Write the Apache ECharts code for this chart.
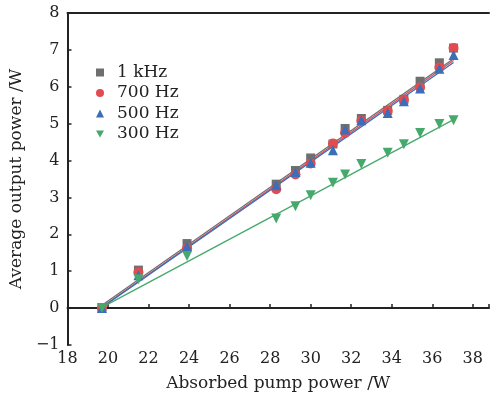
<!DOCTYPE html>
<html><head><meta charset="utf-8">
<script src="https://cdn.jsdelivr.net/npm/echarts@6/dist/echarts.min.js"></script>
<style>html,body{margin:0;padding:0;background:#fff}#c{width:492px;height:398px}</style>
</head><body><div id="c"></div>
<script>
const pumpPower = [19.7, 21.5, 23.9, 28.3, 29.25, 30.0, 31.1, 31.7, 32.5, 33.8, 34.6, 35.4, 36.35, 37.05];
const p1kHz  = [0.0, 1.03, 1.75, 3.36, 3.73, 4.07, 4.45, 4.87, 5.14, 5.36, 5.66, 6.15, 6.65, 7.05];
const p700Hz = [0.0, 0.97, 1.62, 3.22, 3.62, 3.92, 4.46, 4.75, 5.08, 5.34, 5.64, 5.98, 6.52, 7.05];
const p500Hz = [0.0, 0.89, 1.68, 3.33, 3.69, 3.94, 4.28, 4.84, 5.09, 5.29, 5.61, 5.95, 6.49, 6.86];
const p300Hz = [0.0, 0.78, 1.41, 2.43, 2.76, 3.06, 3.40, 3.62, 3.91, 4.21, 4.44, 4.75, 4.99, 5.09];
// fitted-line endpoints
const fitX = [19.7, 37.05];
const fit1kHz  = [0.08, 6.76];
const fit700Hz = [0.03, 6.71];
const fit500Hz = [0.02, 6.66];
const fit300Hz = [0.02, 5.11];
const seriesNames = ['1 kHz', '700 Hz', '500 Hz', '300 Hz'];
const xTicks = [18, 20, 22, 24, 26, 28, 30, 32, 34, 36, 38];
const yTicks = [-1, 0, 1, 2, 3, 4, 5, 6, 7, 8];

const colors = ['#6f6f6f', '#e24b50', '#3b6db8', '#46a96c'];
const downTri = 'path://M0,0 L10,0 L5,8.66 Z';
const symbols = ['rect', 'circle', 'triangle', downTri];
const pts = [p1kHz, p700Hz, p500Hz, p300Hz];
const fits = [fit1kHz, fit700Hz, fit500Hz, fit300Hz];
const font = 'DejaVu Serif';

const series = [];
for (let i = 0; i < 4; i++) {
  series.push({
    name: seriesNames[i] + ' fit', type: 'line', silent: true, symbol: 'none',
    data: fitX.map((x, k) => [x, fits[i][k]]),
    lineStyle: { color: colors[i], width: 1.3 }, z: 2
  });
}
for (let i = 0; i < 4; i++) {
  series.push({
    name: seriesNames[i], type: 'scatter', symbol: symbols[i],
    symbolSize: i === 0 ? 9 : 10,
    itemStyle: { color: colors[i], opacity: 1 },
    data: pumpPower.map((x, k) => [x, pts[i][k]]), z: 3 + i
  });
}

const chart = echarts.init(document.getElementById('c'));
chart.setOption({
  animation: false,
  backgroundColor: '#fff',
  grid: { left: 61, right: 2, top: 13, bottom: 53 },
  legend: {
    data: seriesNames.map((n, i) => ({ name: n, icon: symbols[i] })),
    orient: 'vertical', left: 91, top: 59, itemGap: 3.5,
    itemWidth: 8, itemHeight: 8,
    textStyle: { fontFamily: font, fontSize: 17, color: '#222', padding: [0, 0, 0, 8] }
  },
  xAxis: [{
    type: 'value', min: 18, max: 38.8, interval: 2,
    name: 'Absorbed pump power /W', nameLocation: 'middle', nameGap: 30,
    nameTextStyle: { fontFamily: font, fontSize: 17, color: '#222' },
    axisLine: { lineStyle: { color: '#222', width: 2 } },
    axisTick: { inside: true, length: 4, lineStyle: { color: '#222', width: 1.5 } },
    axisLabel: { fontFamily: font, fontSize: 16, color: '#222', margin: 6,
      formatter: v => xTicks.indexOf(v) >= 0 ? String(v) : '' },
    splitLine: { show: false }
  }, {
    type: 'value', position: 'top', min: 18, max: 38.8,
    axisLine: { show: true, onZero: false, lineStyle: { color: '#222', width: 2 } },
    axisTick: { show: false }, axisLabel: { show: false }, splitLine: { show: false }
  }],
  yAxis: {
    type: 'value', min: -1, max: 8, interval: 1,
    name: 'Average output power /W', nameLocation: 'middle', nameGap: 35,
    nameTextStyle: { fontFamily: font, fontSize: 17, color: '#222' },
    axisLine: { show: true, lineStyle: { color: '#222', width: 2 } },
    axisTick: { show: true, inside: true, length: 4, lineStyle: { color: '#222', width: 1.5 } },
    axisLabel: { fontFamily: font, fontSize: 16, color: '#222', margin: 8,
      formatter: v => yTicks.indexOf(v) >= 0 ? (v < 0 ? '\u2212' + Math.abs(v) : String(v)) : '' },
    splitLine: { show: false }
  },
  series: series
});
</script></body></html>
